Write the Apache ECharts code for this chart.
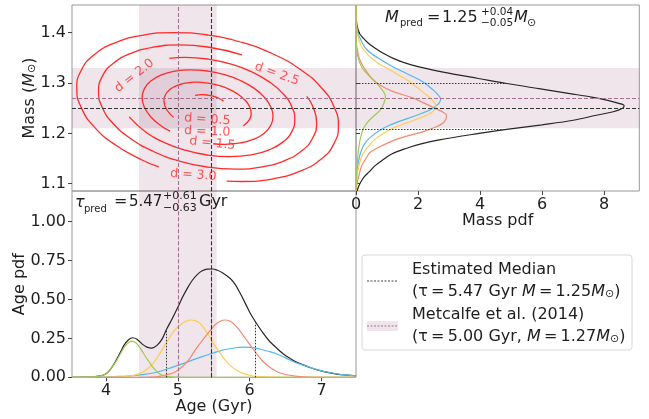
<!DOCTYPE html>
<html>
<head>
<meta charset="utf-8">
<script src="https://cdn.jsdelivr.net/npm/echarts@6/dist/echarts.min.js"></script>
<style>html,body{margin:0;padding:0;background:#fff}#chart{width:649px;height:419px}</style>
</head>
<body>
<div id="chart"></div>
<script>
'use strict'

// tick labels
var massTicks = [1.1, 1.2, 1.3, 1.4]
var ageTicks = [4, 5, 6, 7]
var agePdfTicks = [0, 0.25, 0.5, 0.75, 1.0]
var massPdfTicks = [0, 2, 4, 6, 8]

// axis extents
var ageRange = [3.527, 7.48]
var massRange = [1.0855, 1.455]
var agePdfRange = [0, 1.197]
var massPdfRange = [0, 9.14]

// estimated median and Metcalfe et al. (2014)
var medianAge = 5.47, medianMass = 1.255
var refAge = 5.00, refMass = 1.27
var refAgeBand = [4.46, 5.54]
var refMassBand = [1.21, 1.33]
var ageMarks = [[4.84, 0.31], [5.47, 0.695], [6.08, 0.357]]   // [age, pdf]
var massMarks = [[4.86, 1.299], [4.86, 1.208]]                // [pdf, mass]

// age pdf curves  [age, pdf]
var ageBlack = [[3.527,0],[3.7,0.001],[3.81,0.003],[3.9,0.007],[3.99,0.02],[4.06,0.05],[4.13,0.1],[4.2,0.16],[4.25,0.205],[4.31,0.24],[4.37,0.254],[4.43,0.245],[4.5,0.215],[4.57,0.194],[4.64,0.188],[4.71,0.205],[4.78,0.245],[4.845,0.31],[4.92,0.375],[5.0,0.45],[5.06,0.51],[5.13,0.57],[5.2,0.622],[5.27,0.66],[5.34,0.684],[5.41,0.695],[5.48,0.696],[5.55,0.688],[5.62,0.672],[5.73,0.635],[5.8,0.595],[5.87,0.538],[5.94,0.475],[6.01,0.41],[6.08,0.357],[6.19,0.282],[6.28,0.23],[6.38,0.186],[6.47,0.15],[6.56,0.122],[6.65,0.098],[6.75,0.079],[6.86,0.06],[6.98,0.043],[7.1,0.03],[7.21,0.021],[7.35,0.014],[7.48,0.009]]
var ageBlue = [[3.527,0],[3.8,0.001],[3.99,0.002],[4.2,0.006],[4.36,0.01],[4.5,0.017],[4.64,0.026],[4.78,0.042],[4.92,0.064],[5.06,0.086],[5.2,0.11],[5.34,0.133],[5.45,0.15],[5.57,0.167],[5.68,0.18],[5.8,0.19],[5.91,0.194],[6.03,0.192],[6.15,0.18],[6.27,0.166],[6.38,0.15],[6.5,0.125],[6.61,0.1],[6.72,0.082],[6.84,0.064],[6.95,0.048],[7.07,0.034],[7.2,0.023],[7.33,0.015],[7.48,0.009]]
var ageYellow = [[3.527,0],[4.0,0.001],[4.27,0.004],[4.36,0.01],[4.46,0.022],[4.55,0.045],[4.64,0.08],[4.71,0.125],[4.78,0.175],[4.85,0.23],[4.92,0.28],[4.99,0.32],[5.06,0.346],[5.12,0.362],[5.18,0.368],[5.24,0.364],[5.3,0.35],[5.36,0.318],[5.43,0.27],[5.5,0.215],[5.59,0.154],[5.66,0.11],[5.73,0.075],[5.82,0.045],[5.91,0.025],[6.03,0.01],[6.15,0.004],[6.3,0.001],[6.5,0],[7.48,0]]
var ageSalmon = [[3.527,0],[4.55,0],[4.7,0.003],[4.78,0.009],[4.88,0.02],[4.97,0.036],[5.04,0.06],[5.11,0.09],[5.18,0.13],[5.24,0.175],[5.31,0.218],[5.38,0.26],[5.45,0.3],[5.52,0.338],[5.59,0.36],[5.66,0.368],[5.72,0.362],[5.77,0.348],[5.84,0.312],[5.91,0.27],[5.98,0.224],[6.05,0.18],[6.12,0.138],[6.19,0.1],[6.28,0.064],[6.38,0.036],[6.5,0.018],[6.61,0.009],[6.8,0.002],[7.0,0],[7.48,0]]
var ageGreen = [[3.527,0],[3.7,0.001],[3.81,0.003],[3.9,0.007],[3.99,0.02],[4.06,0.05],[4.13,0.094],[4.2,0.15],[4.25,0.19],[4.31,0.222],[4.36,0.233],[4.42,0.22],[4.48,0.186],[4.54,0.14],[4.6,0.1],[4.66,0.06],[4.73,0.028],[4.8,0.011],[4.87,0.004],[4.95,0.001],[5.05,0],[7.48,0]]

// mass pdf curves  [pdf, mass]
var massBlack = [[0,1.455],[0.01,1.43],[0.03,1.415],[0.11,1.399],[0.22,1.39],[0.4,1.379],[0.62,1.369],[0.88,1.359],[1.2,1.349],[1.63,1.339],[2.25,1.329],[3.03,1.319],[3.95,1.309],[4.86,1.299],[5.9,1.289],[6.9,1.279],[7.6,1.272],[8.09,1.266],[8.45,1.26],[8.65,1.255],[8.6,1.25],[8.3,1.243],[7.75,1.236],[7.01,1.226],[6.0,1.217],[4.86,1.208],[3.87,1.199],[2.69,1.187],[2.1,1.179],[1.61,1.17],[1.15,1.159],[0.86,1.147],[0.6,1.135],[0.43,1.124],[0.27,1.114],[0.16,1.104],[0.08,1.094],[0.04,1.0855]]
var massBlue = [[0,1.455],[0.01,1.42],[0.06,1.4],[0.2,1.38],[0.35,1.366],[0.7,1.35],[1.2,1.332],[1.6,1.32],[2.06,1.306],[2.3,1.296],[2.49,1.286],[2.64,1.277],[2.73,1.268],[2.68,1.26],[2.55,1.253],[2.37,1.246],[2.13,1.24],[1.83,1.233],[1.45,1.225],[1.08,1.216],[0.8,1.207],[0.54,1.196],[0.35,1.185],[0.22,1.173],[0.14,1.16],[0.09,1.147],[0.04,1.13],[0.02,1.115],[0,1.0855]]
var massYellow = [[0,1.455],[0.01,1.42],[0.04,1.4],[0.1,1.385],[0.2,1.37],[0.45,1.352],[0.7,1.34],[1.1,1.326],[1.4,1.315],[1.65,1.306],[2.0,1.29],[2.2,1.28],[2.4,1.27],[2.53,1.261],[2.58,1.253],[2.53,1.246],[2.35,1.238],[2.04,1.23],[1.65,1.221],[1.29,1.213],[0.95,1.202],[0.65,1.19],[0.45,1.178],[0.27,1.164],[0.16,1.15],[0.09,1.134],[0.04,1.12],[0.02,1.105],[0,1.0855]]
var massSalmon = [[0,1.455],[0,1.4],[0.01,1.38],[0.03,1.37],[0.1,1.35],[0.24,1.332],[0.5,1.31],[0.77,1.296],[1.2,1.283],[1.85,1.27],[2.2,1.26],[2.55,1.25],[2.78,1.243],[2.92,1.236],[2.9,1.228],[2.8,1.22],[2.55,1.212],[2.15,1.203],[1.4,1.19],[0.75,1.173],[0.45,1.162],[0.32,1.15],[0.18,1.135],[0.11,1.12],[0.05,1.105],[0.02,1.095],[0,1.0855]]
var massGreen = [[0,1.455],[0,1.4],[0.01,1.38],[0.02,1.366],[0.07,1.35],[0.18,1.332],[0.33,1.32],[0.56,1.306],[0.8,1.29],[0.95,1.273],[0.9,1.26],[0.78,1.246],[0.6,1.236],[0.43,1.226],[0.3,1.216],[0.22,1.207],[0.15,1.192],[0.11,1.18],[0.07,1.162],[0.05,1.147],[0.02,1.12],[0,1.0855]]

// distance contours  [age, mass], broken where the labels sit
var contourD05 = [[5.636,1.264],[5.566,1.2699],[5.493,1.2738],[5.414,1.2762],[5.336,1.277],[5.24,1.2754]]
var contourD10 = [[5.911,1.2147],[6.0,1.2279],[6.021,1.2399],[6.0,1.2527],[5.94,1.2654],[5.843,1.2773],[5.718,1.2874],[5.571,1.2952],[5.414,1.3],[5.257,1.3016],[5.11,1.2998],[4.985,1.2948],[4.888,1.2869],[4.828,1.2767],[4.807,1.2647],[4.828,1.2519],[4.888,1.2392],[4.942,1.2319]]
var contourD15 = [[5.493,1.1794],[5.65,1.1783],[5.87,1.181],[6.058,1.1885],[6.203,1.2004],[6.293,1.2157],[6.325,1.2337],[6.293,1.2529],[6.203,1.272],[6.058,1.2898],[5.87,1.305],[5.65,1.3167],[5.414,1.3239],[5.178,1.3263],[4.958,1.3236],[4.77,1.3161],[4.625,1.3042],[4.535,1.2889],[4.503,1.2709],[4.535,1.2517],[4.625,1.2326],[4.77,1.2148],[4.892,1.2043]]
var contourD20 = [[4.322,1.2327],[4.556,1.2023],[4.806,1.1821],[5.1,1.1665],[5.414,1.1569],[5.728,1.1537],[6.022,1.1573],[6.272,1.1673],[6.466,1.1831],[6.586,1.2035],[6.628,1.2275],[6.586,1.2531],[6.466,1.2785],[6.272,1.3023],[6.022,1.3225],[5.728,1.3381],[5.414,1.3477],[5.1,1.3509],[4.882,1.3489]]
var contourD25 = [[5.891,1.3558],[5.414,1.3716],[5.021,1.3756],[4.654,1.3711],[4.341,1.3586],[4.099,1.3388],[3.949,1.3133],[3.896,1.2833],[3.949,1.2513],[4.099,1.2195],[4.341,1.1898],[4.654,1.1645],[5.021,1.145],[5.414,1.133],[5.807,1.129],[6.174,1.1335],[6.487,1.146],[6.729,1.1658],[6.879,1.1913],[6.932,1.2213],[6.879,1.2533],[6.795,1.2736]]
var contourD30 = [[5.68,1.1053],[5.885,1.1044],[6.326,1.1098],[6.701,1.1248],[6.992,1.1485],[7.172,1.1791],[7.235,1.2151],[7.172,1.2535],[6.992,1.2916],[6.701,1.3273],[6.326,1.3576],[5.885,1.381],[5.414,1.3954],[4.943,1.4002],[4.502,1.3948],[4.127,1.3798],[3.836,1.3561],[3.656,1.3255],[3.593,1.2895],[3.656,1.2511],[3.836,1.213],[4.127,1.1773],[4.502,1.147],[4.735,1.1332]]
var contourNames = ['d = 0.5', 'd = 1.0', 'd = 1.5', 'd = 2.0', 'd = 2.5', 'd = 3.0']

// where each contour label sits, and its slope (degrees)
var contourLabelAt = [[5.41,1.2275,-4],[5.41,1.2035,-2],[5.481,1.1801,-6],[4.395,1.3145,38],[6.378,1.3179,-20],[5.216,1.1171,-4]]

var FONT = 'DejaVu Sans'
var INK = '#1e1e1e'
var BAND = 'rgba(120,40,90,0.12)'
var PINK = '#a3708e'
var DARK = '#333'
var RED = '#ff2a2a'
var C = { black: '#262626', blue: '#52b8ee', yellow: '#ffcb55', salmon: '#f5896f', green: '#a3c955' }

function fmt(d) { return function (v) { return v.toFixed(d) } }

function axis(gridIndex, range, ticks, digits, showLabels, inside) {
	return {
		type: 'value', gridIndex: gridIndex, min: range[0], max: range[1],
		axisLine: { show: false },
		splitLine: { show: false },
		nameMoveOverlap: false,
		axisTick: { show: true, inside: !!inside, length: 4, lineStyle: { color: '#444' }, customValues: ticks },
		axisLabel: { show: showLabels, customValues: ticks, formatter: fmt(digits), fontSize: 16, color: INK, fontFamily: FONT, margin: 6 }
	}
}

var nameStyle = { fontSize: 16, color: INK, fontFamily: FONT,
	rich: { i: { fontStyle: 'italic', fontSize: 16, fontFamily: FONT, color: INK },
			s: { fontSize: 11, fontFamily: FONT, color: INK, verticalAlign: 'bottom' } } }

var xAxes = [
	axis(0, ageRange, ageTicks, 0, false),
	axis(1, massPdfRange, massPdfTicks, 0, true),
	axis(2, ageRange, ageTicks, 0, true)
]
xAxes[0].axisTick.show = false
xAxes[1].name = 'Mass pdf'
xAxes[2].name = 'Age (Gyr)'
xAxes[1].nameLocation = xAxes[2].nameLocation = 'middle'
xAxes[1].nameGap = xAxes[2].nameGap = 22
xAxes[1].nameTextStyle = xAxes[2].nameTextStyle = nameStyle

var yAxes = [
	axis(0, massRange, massTicks, 1, true),
	axis(1, massRange, massTicks, 1, false, true),
	axis(2, agePdfRange, agePdfTicks, 2, true)
]
yAxes[0].name = 'Mass ({i|M}{s|⊙})'
yAxes[2].name = 'Age pdf'
yAxes[0].nameLocation = yAxes[2].nameLocation = 'middle'
yAxes[0].nameGap = 34
yAxes[2].nameGap = 44
yAxes[0].nameTextStyle = yAxes[2].nameTextStyle = nameStyle

function curve(i, data, color, width, z) {
	return { type: 'line', xAxisIndex: i, yAxisIndex: i, data: data, smooth: 0.35, showSymbol: false,
		lineStyle: { color: color, width: width || 1.2 }, z: z || 3, silent: true }
}

function dash(color) { return { color: color, type: [4, 2], width: 1.1 } }
var dotted = { color: DARK, type: [1.5, 1.5], width: 1 }

var series = []

// top-left: mass vs age
series.push({ type: 'line', xAxisIndex: 0, yAxisIndex: 0, data: [], z: 1,
	markArea: { silent: true, itemStyle: { color: BAND },
		data: [[{ xAxis: refAgeBand[0] }, { xAxis: refAgeBand[1] }], [{ yAxis: refMassBand[0] }, { yAxis: refMassBand[1] }]] },
	markLine: { silent: true, symbol: ['none', 'none'], label: { show: false },
		data: [{ xAxis: refAge, lineStyle: dash(PINK) }, { xAxis: medianAge, lineStyle: dash(DARK) },
			{ yAxis: refMass, lineStyle: dash(PINK) }, { yAxis: medianMass, lineStyle: dash(DARK) }] } })
;[contourD05, contourD10, contourD15, contourD20, contourD25, contourD30].forEach(function (ring) {
	var s = curve(0, ring, RED, 1.3, 4)
	s.smooth = 0.5
	series.push(s)
})
series.push({ type: 'scatter', xAxisIndex: 0, yAxisIndex: 0, symbolSize: 0, z: 5, silent: true,
	data: contourNames.map(function (n, k) {
		return { name: n, value: [contourLabelAt[k][0], contourLabelAt[k][1]], label: { rotate: contourLabelAt[k][2] } }
	}),
	label: { show: true, position: 'inside', formatter: '{b}', color: RED, fontSize: 12.5, fontFamily: FONT } })

// top-right: mass pdf
series.push({ type: 'line', xAxisIndex: 1, yAxisIndex: 1, data: [], z: 1,
	markArea: { silent: true, itemStyle: { color: BAND }, data: [[{ yAxis: refMassBand[0] }, { yAxis: refMassBand[1] }]] },
	markLine: { silent: true, symbol: ['none', 'none'], label: { show: false },
		data: [{ yAxis: refMass, lineStyle: dash(PINK) }, { yAxis: medianMass, lineStyle: dash(DARK) }].concat(
			massMarks.map(function (m) { return [{ coord: [0, m[1]], lineStyle: dotted }, { coord: [m[0], m[1]] }] })) } })
series.push(curve(1, massBlack, C.black))
series.push(curve(1, massBlue, C.blue))
series.push(curve(1, massYellow, C.yellow))
series.push(curve(1, massSalmon, C.salmon))
series.push(curve(1, massGreen, C.green))

// bottom: age pdf
series.push({ type: 'line', xAxisIndex: 2, yAxisIndex: 2, data: [], z: 1,
	markArea: { silent: true, itemStyle: { color: BAND }, data: [[{ xAxis: refAgeBand[0] }, { xAxis: refAgeBand[1] }]] },
	markLine: { silent: true, symbol: ['none', 'none'], label: { show: false },
		data: [{ xAxis: refAge, lineStyle: dash(PINK) }, { xAxis: medianAge, lineStyle: dash(DARK) }].concat(
			ageMarks.map(function (m) { return [{ coord: [m[0], 0], lineStyle: dotted }, { coord: [m[0], m[1]] }] })) } })
series.push(curve(2, ageBlack, C.black))
series.push(curve(2, ageBlue, C.blue))
series.push(curve(2, ageYellow, C.yellow))
series.push(curve(2, ageSalmon, C.salmon))
series.push(curve(2, ageGreen, C.green))

function tx(text, x, y, size, italic) {
	return { type: 'text', x: x, y: y, z: 100, silent: true,
		style: { text: text, fontSize: size, fontFamily: FONT, fontStyle: italic ? 'italic' : 'normal', fill: INK, align: 'left', verticalAlign: 'middle' } }
}
var legendRich = { i: { fontStyle: 'italic', fontSize: 16, fontFamily: FONT, fill: INK },
	s: { fontSize: 11, fontFamily: FONT, fill: INK, verticalAlign: 'bottom' } }
function rtx(text, x, y) {
	var t = tx(text, x, y, 16)
	t.style.rich = legendRich
	return t
}
var TH = '\u2009'

var graphic = [
	// mass title
	tx('M', 385, 17.5, 16, true), tx('pred', 400, 23, 10), tx('=', 427, 17.5, 16), tx('1.25', 442, 17.5, 16),
	tx('+0.04', 481, 12.5, 10.5), tx('\u22120.05', 481, 23, 10.5), tx('M', 514, 17.5, 16, true), tx('\u2299', 527, 23.5, 11),
	// age title
	tx('\u03c4', 75, 203, 16, true), tx('pred', 84, 209, 10), tx('=', 114, 202, 16), tx('5.47', 129, 202, 15),
	tx('+0.61', 163, 196.5, 11), tx('\u22120.63', 163, 208.5, 11), tx('Gyr', 199, 202, 16),
	// legend box
	{ type: 'rect', z: 90, silent: true, shape: { x: 362, y: 255, width: 270, height: 95, r: 3 }, style: { fill: '#fff', stroke: '#d8d8d8', lineWidth: 1 } },
	{ type: 'line', z: 95, silent: true, shape: { x1: 367, y1: 281, x2: 398, y2: 281 }, style: { stroke: '#444', lineWidth: 1, lineDash: [2, 1.5] } },
	{ type: 'rect', z: 95, silent: true, shape: { x: 367, y: 321, width: 31, height: 10 }, style: { fill: BAND } },
	{ type: 'line', z: 96, silent: true, shape: { x1: 367, y1: 326, x2: 398, y2: 326 }, style: { stroke: PINK, lineWidth: 1, lineDash: [2, 1.5] } },
	rtx('Estimated Median', 412, 270),
	rtx('(\u03c4' + TH + '=' + TH + '5.47 Gyr {i|M}' + TH + '=' + TH + '1.25{i|M}{s|\u2299})', 412, 292),
	rtx('Metcalfe et al. (2014)', 412, 315),
	rtx('(\u03c4' + TH + '=' + TH + '5.00 Gyr, {i|M}' + TH + '=' + TH + '1.27{i|M}{s|\u2299})', 412, 337)
]

var gridStyle = { show: true, borderColor: '#999', borderWidth: 1, backgroundColor: 'transparent' }
var option = {
	animation: false,
	textStyle: { fontFamily: FONT },
	grid: [
		Object.assign({ left: 72, top: 5, width: 284, height: 186 }, gridStyle),
		Object.assign({ left: 356, top: 5, width: 283.3, height: 186 }, gridStyle),
		Object.assign({ left: 72, top: 191, width: 284, height: 186.3 }, gridStyle)
	],
	xAxis: xAxes,
	yAxis: yAxes,
	series: series,
	graphic: graphic
}

var myChart = echarts.init(document.getElementById('chart'), null, { renderer: 'canvas' })
myChart.setOption(option)
window.onresize = myChart.resize
</script>
</body>
</html>
